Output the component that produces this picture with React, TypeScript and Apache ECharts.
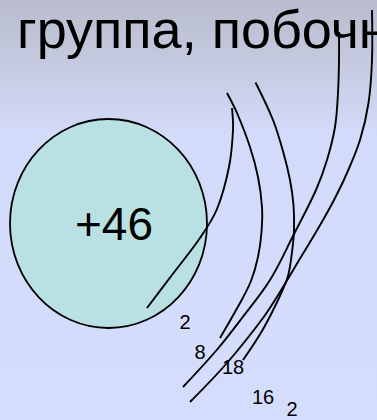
import React, { useEffect, useRef } from "react";
import * as echarts from "echarts";

// ---- content ----
const TITLE_TEXT = "группа, побочн";
const NUCLEUS_CHARGE = [46];
const SHELL_ELECTRONS = [2, 8, 18, 16, 2];

// ---- layout (pixels) ----
const SHELL_LABEL_POS: number[][] = [
  [185, 322],
  [200, 352],
  [233, 367],
  [263, 397],
  [292, 409],
];

const SHELL_ARCS: number[][][] = [
  [[232, 108], [233, 130], [229, 167], [217, 209], [200, 238], [172, 275], [147, 308]],
  [[227, 93], [237, 113], [250, 147], [258, 177], [262, 207], [261.5, 232], [258, 257], [251, 281], [240, 303], [220, 338]],
  [[255.5, 82.5], [273, 120], [283.5, 153], [290, 180], [293.5, 205], [294, 230], [292, 252], [288, 276], [279, 298], [262, 331], [243, 360]],
  [[339, 32], [339, 60], [338, 93], [335, 127], [327, 160], [316, 190], [293, 236], [270, 280], [242, 318], [216.7, 350], [183, 387]],
  [[372, 10], [372, 60], [368.5, 103], [360, 140], [347, 173], [334, 200], [319, 227], [298, 262], [280, 292], [263, 318], [227, 363], [190, 402]],
];

const FONT = "'Liberation Sans', Arial, sans-serif";

export default function App() {
  const ref = useRef<HTMLDivElement>(null);
  useEffect(() => {
    if (!ref.current) return;
    const chart = echarts.init(ref.current, null, { renderer: "svg" });
    const graphic: any[] = [];

    graphic.push({
      type: "text",
      x: 17,
      y: 29,
      style: {
        text: TITLE_TEXT,
        font: `54px ${FONT}`,
        fill: "#000000",
        align: "left",
        verticalAlign: "middle",
      },
      z: 5,
    });

    graphic.push({
      type: "ellipse",
      shape: { cx: 108.5, cy: 223.5, rx: 98.5, ry: 104.5 },
      style: { fill: "#b9e0e2", stroke: "#000000", lineWidth: 1.8 },
      z: 1,
    });

    graphic.push({
      type: "text",
      x: 114,
      y: 224,
      style: {
        text: "+" + NUCLEUS_CHARGE[0],
        font: `46px ${FONT}`,
        fill: "#000000",
        align: "center",
        verticalAlign: "middle",
      },
      z: 3,
    });

    SHELL_ARCS.forEach((pts) => {
      graphic.push({
        type: "polyline",
        shape: { points: pts, smooth: 0.35 },
        style: { stroke: "#000000", lineWidth: 1.9, fill: null },
        z: 6,
      });
    });

    SHELL_ELECTRONS.forEach((n, i) => {
      const [x, y] = SHELL_LABEL_POS[i];
      graphic.push({
        type: "text",
        x,
        y,
        style: {
          text: String(n),
          font: `20px ${FONT}`,
          fill: "#000000",
          align: "center",
          verticalAlign: "middle",
        },
        z: 7,
      });
    });

    chart.setOption({
      animation: false,
      backgroundColor: {
        type: "linear",
        x: 0,
        y: 0,
        x2: 0,
        y2: 1,
        colorStops: [
          { offset: 0, color: "#b8bccd" },
          { offset: 0.15, color: "#c5cae0" },
          { offset: 0.32, color: "#d3dbfa" },
          { offset: 1, color: "#d5ddfd" },
        ],
      },
      graphic,
    });
    return () => chart.dispose();
  }, []);
  return (
    <div
      ref={ref}
      style={{ position: "fixed", left: 0, top: 0, width: 377, height: 420 }}
    />
  );
}
